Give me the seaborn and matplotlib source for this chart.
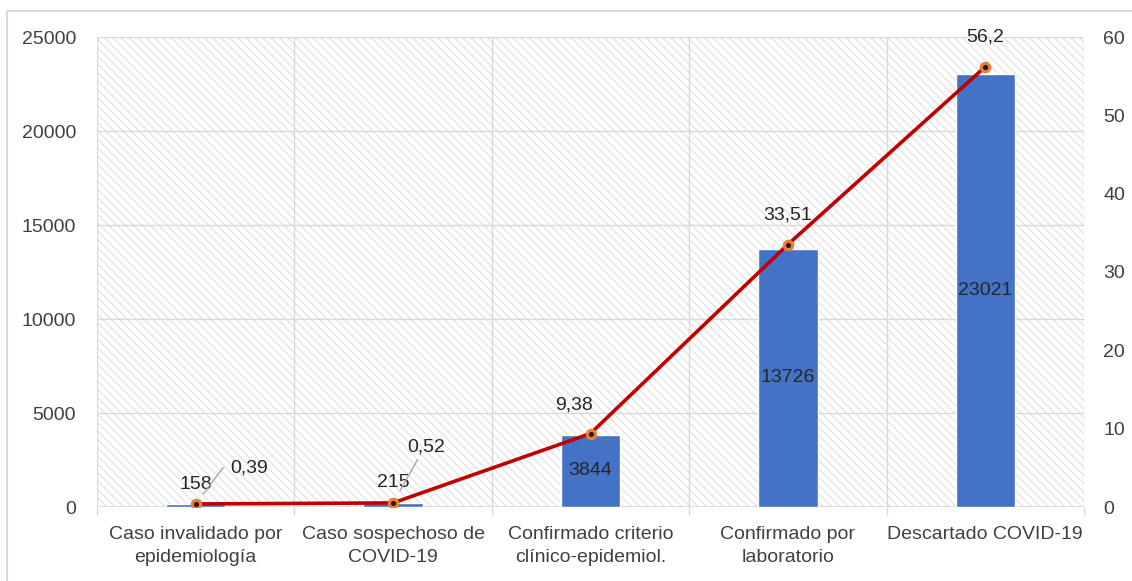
import matplotlib
matplotlib.use("Agg")
import matplotlib.pyplot as plt
from matplotlib.patches import Rectangle
import seaborn as sns
import pandas as pd

# Datos
categorias = [
    "Caso invalidado por\nepidemiología",
    "Caso sospechoso de\nCOVID-19",
    "Confirmado criterio\nclínico-epidemiol.",
    "Confirmado por\nlaboratorio",
    "Descartado COVID-19",
]
casos = [158, 215, 3844, 13726, 23021]
porcentajes = [0.39, 0.52, 9.38, 33.51, 56.2]
ticks_casos = [0, 5000, 10000, 15000, 20000, 25000]
ticks_pct = [0, 10, 20, 30, 40, 50, 60]

AZUL = "#4472C4"
ROJO = "#C00000"
NARANJA = "#ED7D31"
GRIS_TXT = "#404040"
GRIS_REJ = "#d9d9d9"
FS = 14

sns.set_theme(style="white")
plt.rcParams["font.family"] = ["Liberation Sans", "DejaVu Sans"]
plt.rcParams["hatch.linewidth"] = 0.8

df = pd.DataFrame({"categoria": categorias, "casos": casos, "porcentaje": porcentajes})

W, H = 1132, 581
fig = plt.figure(figsize=(W / 100, H / 100), dpi=100)
fig.patch.set_facecolor("white")
ax = fig.add_axes([97 / W, 1 - 507 / H, (1084 - 97) / W, (507 - 37) / H])

# marco exterior del gráfico
fig.add_artist(Rectangle((7 / W, -0.2), 1.2, 1.2 - 11 / H, transform=fig.transFigure,
                         fill=False, edgecolor=GRIS_REJ, linewidth=1.5))

# fondo rayado del área de trazado
ax.add_patch(Rectangle((0, 0), 1, 1, transform=ax.transAxes, facecolor="white",
                       edgecolor="#e0e0e0", hatch="\\\\\\\\", linewidth=0, zorder=0))

sns.barplot(data=df, x="categoria", y="casos", color=AZUL, saturation=1,
            width=0.3, ax=ax, zorder=2, errorbar=None)

ax2 = ax.twinx()
sns.pointplot(data=df, x="categoria", y="porcentaje", color=ROJO, markers="o",
              errorbar=None, ax=ax2)
for ln in ax2.lines:
    ln.set_linewidth(2.6)
    ln.set_markersize(6)
    ln.set_markerfacecolor("#1a1a1a")
    ln.set_markeredgecolor(NARANJA)
    ln.set_markeredgewidth(2.3)
for coll in ax2.collections:
    coll.set_visible(False)

n = len(categorias)
for a in (ax, ax2):
    a.set_xlim(-0.5, n - 0.5)
    a.set_xlabel("")
    a.set_ylabel("")
    for s in a.spines.values():
        s.set_visible(False)

ax.set_ylim(0, ticks_casos[-1])
ax.set_yticks(ticks_casos)
ax.set_yticklabels([str(t) for t in ticks_casos])
ax2.set_ylim(0, ticks_pct[-1])
ax2.set_yticks(ticks_pct)
ax2.set_yticklabels([str(t) for t in ticks_pct])
ax2.grid(False)

ax.set_xticks(range(n))
ax.set_xticklabels(categorias, linespacing=1.45)
ax.set_xticks([i - 0.5 for i in range(n + 1)], minor=True)
ax.set_axisbelow(True)
ax.yaxis.grid(True, color=GRIS_REJ, linewidth=1)
ax.xaxis.grid(True, which="minor", color=GRIS_REJ, linewidth=1)
ax.xaxis.grid(False, which="major")
ax.tick_params(axis="x", which="major", length=0, pad=14, labelsize=FS, labelcolor=GRIS_TXT)
ax.tick_params(axis="x", which="minor", bottom=True, length=6, width=1, color=GRIS_REJ)
ax.tick_params(axis="y", length=0, pad=15, labelsize=FS, labelcolor=GRIS_TXT)
ax2.tick_params(axis="y", length=0, pad=14, labelsize=FS, labelcolor=GRIS_TXT)
ax.axhline(0, color=GRIS_REJ, linewidth=1.2, zorder=1)

txt = dict(fontsize=FS, color="#262626", ha="center", va="center")

# etiquetas de las barras
for i, v in enumerate(casos):
    if v < 1000:
        ax.annotate(f"{v}", xy=(i, v), xytext=(0, 20), textcoords="offset pixels", **txt)
    else:
        ax.annotate(f"{v}", xy=(i, v / 2), **txt)

# etiquetas de los porcentajes
def fmt(p):
    return f"{p:g}".replace(".", ",")

lider = dict(arrowstyle="-", color="#a6a6a6", linewidth=1)
desplaz = [(53, 36), (33, 56), (-16, 29), (0, 30), (0, 30)]
for i, (p, off) in enumerate(zip(porcentajes, desplaz)):
    kw = dict(txt)
    if i == 0:
        ax2.annotate(fmt(p), xy=(i, p), xytext=off, textcoords="offset pixels",
                     arrowprops=dict(lider, shrinkA=2, shrinkB=9, relpos=(0, 0.5),
                                     connectionstyle="angle,angleA=0,angleB=53,rad=0"),
                     zorder=5, **kw)
    elif i == 1:
        ax2.annotate(fmt(p), xy=(i, p), xytext=off, textcoords="offset pixels",
                     arrowprops=dict(lider, shrinkA=1, shrinkB=10, relpos=(0.35, 0.05)),
                     zorder=5, **kw)
    else:
        ax2.annotate(fmt(p), xy=(i, p), xytext=off, textcoords="offset pixels",
                     zorder=5, **kw)

fig.savefig("out.png", dpi=100, facecolor="white")
